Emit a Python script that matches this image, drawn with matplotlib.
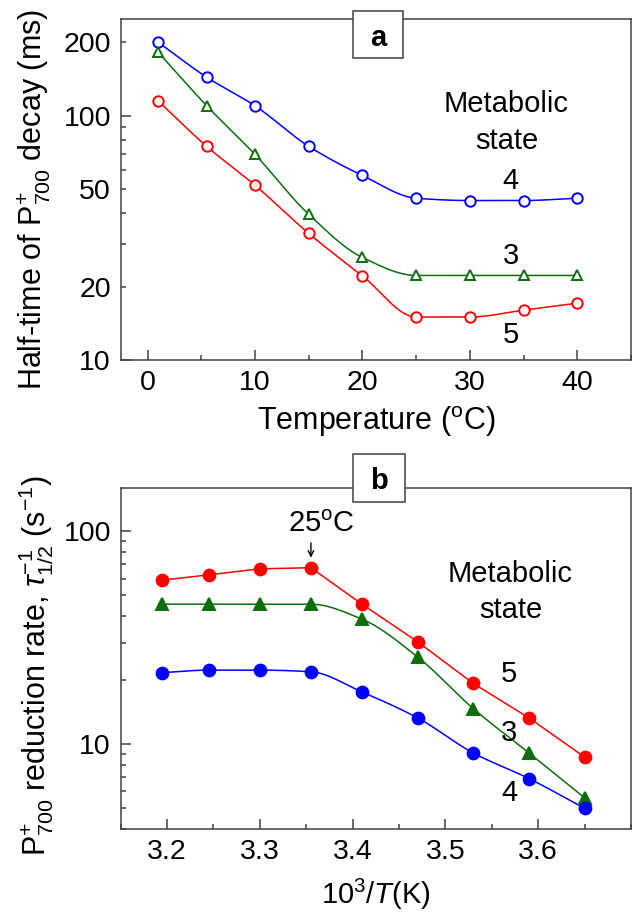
import matplotlib
matplotlib.use("Agg")
import matplotlib.pyplot as plt
import numpy as np
from matplotlib.patches import Rectangle
from matplotlib.ticker import FixedLocator, FixedFormatter, MultipleLocator, FuncFormatter, NullFormatter

plt.rcParams['font.family'] = ['Liberation Sans', 'DejaVu Sans']
plt.rcParams['mathtext.fontset'] = 'custom'
plt.rcParams['mathtext.rm'] = 'Liberation Sans'
plt.rcParams['mathtext.it'] = 'Liberation Sans:italic'
plt.rcParams['mathtext.bf'] = 'Liberation Sans:bold'

BLUE = '#0000ff'
RED = '#ff0000'
GREEN = '#0b6e0b'
AXIS_COLOR = '#404040'
LINE_WIDTH = 1.1

# panel a: half-time vs temperature
temperature = [1, 5.5, 10, 15, 20, 25, 30, 35, 40]
halftime_state4 = [200, 144, 110, 75, 57, 46, 45, 45, 46]
halftime_state3 = [182, 110, 69.5, 39.5, 26.3, 22.2, 22.2, 22.2, 22.2]
halftime_state5 = [115, 75, 52, 33, 22.1, 15.0, 15.0, 16.0, 17.1]
a_ytick_values = [20, 50, 200]
a_ytick_labels = ['20', '50', '200']

# panel b: reduction rate vs 10^3/T
inv_temperature = [3.195, 3.245, 3.30, 3.355, 3.41, 3.47, 3.53, 3.59, 3.65]
rate_state5 = [59.0, 62.5, 66.7, 67.5, 45.5, 30.3, 19.3, 13.3, 8.7]
rate_state3 = [45.5, 45.5, 45.5, 45.5, 38.7, 25.7, 14.7, 9.1, 5.6]
rate_state4 = [21.7, 22.3, 22.3, 21.9, 17.6, 13.3, 9.1, 6.9, 5.0]
b_xticks = [3.2, 3.3, 3.4, 3.5, 3.6]


def smooth_curve(x, y, num=400):
    """monotone cubic (pchip) through the points, done in log10(y)"""
    x = np.asarray(x, float)
    y = np.log10(np.asarray(y, float))
    order = np.argsort(x)
    x, y = x[order], y[order]
    h = np.diff(x)
    delta = np.diff(y) / h
    d = np.zeros_like(y)
    for k in range(1, len(x) - 1):
        if delta[k - 1] * delta[k] > 0:
            w1 = 2 * h[k] + h[k - 1]
            w2 = h[k] + 2 * h[k - 1]
            d[k] = (w1 + w2) / (w1 / delta[k - 1] + w2 / delta[k])
    d[0] = delta[0]
    d[-1] = delta[-1]
    xs = np.linspace(x[0], x[-1], num)
    idx = np.clip(np.searchsorted(x, xs) - 1, 0, len(h) - 1)
    t = (xs - x[idx]) / h[idx]
    h00 = 2 * t ** 3 - 3 * t ** 2 + 1
    h10 = t ** 3 - 2 * t ** 2 + t
    h01 = -2 * t ** 3 + 3 * t ** 2
    h11 = t ** 3 - t ** 2
    ys = h00 * y[idx] + h10 * h[idx] * d[idx] + h01 * y[idx + 1] + h11 * h[idx] * d[idx + 1]
    return xs, 10 ** ys


def style_axis(axis):
    for spine in axis.spines.values():
        spine.set_color(AXIS_COLOR)
        spine.set_linewidth(LINE_WIDTH)
    axis.tick_params(which='both', direction='in', color=AXIS_COLOR, width=LINE_WIDTH,
                     top=False, right=False, labelsize=20.5, labelcolor='black')
    axis.tick_params(which='major', length=7)
    axis.tick_params(which='minor', length=3.5)
    axis.tick_params(axis='x', which='both', pad=7)
    axis.tick_params(axis='y', which='both', pad=7)


def series(axis, x, y, color, marker, filled, smooth=True, size=7.5):
    if smooth:
        xs, ys = smooth_curve(x, y)
    else:
        xs, ys = x, y
    axis.plot(xs, ys, color=color, lw=LINE_WIDTH, zorder=2)
    axis.plot(x, y, linestyle='none', marker=marker, ms=size, mew=1.4,
              mec=color, mfc=color if filled else 'white', zorder=3)


def panel_box(fig, x0, y0, w, h, letter, tx, ty):
    fig.patches.append(Rectangle((x0, y0), w, h, transform=fig.transFigure,
                                 facecolor='white', edgecolor=AXIS_COLOR, lw=LINE_WIDTH, zorder=5))
    fig.text(tx, ty, letter, ha='center', va='baseline', fontsize=21, fontweight='bold', zorder=6)


fig = plt.figure(figsize=(6.33, 9.17), dpi=100)

# ---- panel a
ax_a = fig.add_axes([0.1907, 0.6074, 0.8062, 0.3722])
ax_a.set_yscale('log')
series(ax_a, temperature, halftime_state4, BLUE, 'o', False)
series(ax_a, temperature, halftime_state3, GREEN, '^', False)
series(ax_a, temperature, halftime_state5, RED, 'o', False)
ax_a.set_xlim(-2.5, 45)
ax_a.set_ylim(10, 250)
ax_a.xaxis.set_major_locator(MultipleLocator(10))
ax_a.xaxis.set_minor_locator(MultipleLocator(5))
ax_a.yaxis.set_major_locator(FixedLocator([10, 100]))
ax_a.yaxis.set_major_formatter(FixedFormatter(['10', '100']))
ax_a.yaxis.set_minor_locator(FixedLocator([20, 30, 40, 50, 60, 70, 80, 90, 200]))
ax_a.yaxis.set_minor_formatter(FuncFormatter(
    lambda v, pos: dict(zip(a_ytick_values, a_ytick_labels)).get(int(round(v)), '')))
style_axis(ax_a)
ax_a.set_xlabel('Temperature ($^{\\rm o}$C)', fontsize=22, labelpad=6)
ax_a.text(-0.17, 0.47, 'Half-time of P$^{+}_{700}$ decay (ms)', transform=ax_a.transAxes,
          rotation=90, ha='center', va='center', rotation_mode='anchor', fontsize=22)
ax_a.text(33.4, 103.8, 'Metabolic', ha='center', va='baseline', fontsize=21)
ax_a.text(33.4, 73.5, 'state', ha='center', va='baseline', fontsize=21)
ax_a.text(33.8, 50.4, '4', ha='center', va='baseline', fontsize=21)
ax_a.text(33.8, 24.7, '3', ha='center', va='baseline', fontsize=21)
ax_a.text(33.8, 11.7, '5', ha='center', va='baseline', fontsize=21)

# ---- panel b
ax_b = fig.add_axes([0.1907, 0.0960, 0.8062, 0.3719])
ax_b.set_yscale('log')
series(ax_b, inv_temperature, rate_state5, RED, 'o', True, smooth=False, size=8.5)
series(ax_b, inv_temperature, rate_state3, GREEN, '^', True, size=8.5)
series(ax_b, inv_temperature, rate_state4, BLUE, 'o', True, size=8.5)
ax_b.set_xlim(3.15, 3.70)
ax_b.set_ylim(4, 160)
ax_b.xaxis.set_major_locator(FixedLocator(b_xticks))
ax_b.xaxis.set_minor_locator(MultipleLocator(0.05))
ax_b.xaxis.set_major_formatter(FuncFormatter(lambda v, pos: '{:.1f}'.format(v)))
ax_b.yaxis.set_major_locator(FixedLocator([10, 100]))
ax_b.yaxis.set_major_formatter(FixedFormatter(['10', '100']))
ax_b.yaxis.set_minor_locator(FixedLocator([4, 5, 6, 7, 8, 9, 20, 30, 40, 50, 60, 70, 80, 90]))
ax_b.yaxis.set_minor_formatter(NullFormatter())
style_axis(ax_b)
ax_b.set_xlabel('10$^{3}$/$T$(K)', fontsize=21, labelpad=9)
ax_b.text(-0.165, 0.48, 'P$^{+}_{700}$ reduction rate, $\\tau^{-1}_{1/2}$ (s$^{-1}$)',
          transform=ax_b.transAxes, rotation=90, ha='center', va='center',
          rotation_mode='anchor', fontsize=22)
ax_b.text(3.570, 57.9, 'Metabolic', ha='center', va='baseline', fontsize=21)
ax_b.text(3.570, 39.0, 'state', ha='center', va='baseline', fontsize=21)
ax_b.text(3.5685, 19.6, '5', ha='center', va='baseline', fontsize=21)
ax_b.text(3.5685, 10.4, '3', ha='center', va='baseline', fontsize=21)
ax_b.text(3.5685, 5.41, '4', ha='center', va='baseline', fontsize=21)
ax_b.text(3.3666, 99.6, '25$^{\\rm o}$C', ha='center', va='baseline', fontsize=21)
ax_b.annotate('', xy=(3.355, 73), xytext=(3.355, 91),
              arrowprops=dict(arrowstyle='->', color='black', lw=1.0))

panel_box(fig, 0.5581, 0.93642, 0.0780, 0.05158, 'a', 0.5972, 0.95016)
panel_box(fig, 0.5581, 0.45289, 0.0812, 0.0517, 'b', 0.5987, 0.46641)

fig.savefig('out.png', dpi=100)
